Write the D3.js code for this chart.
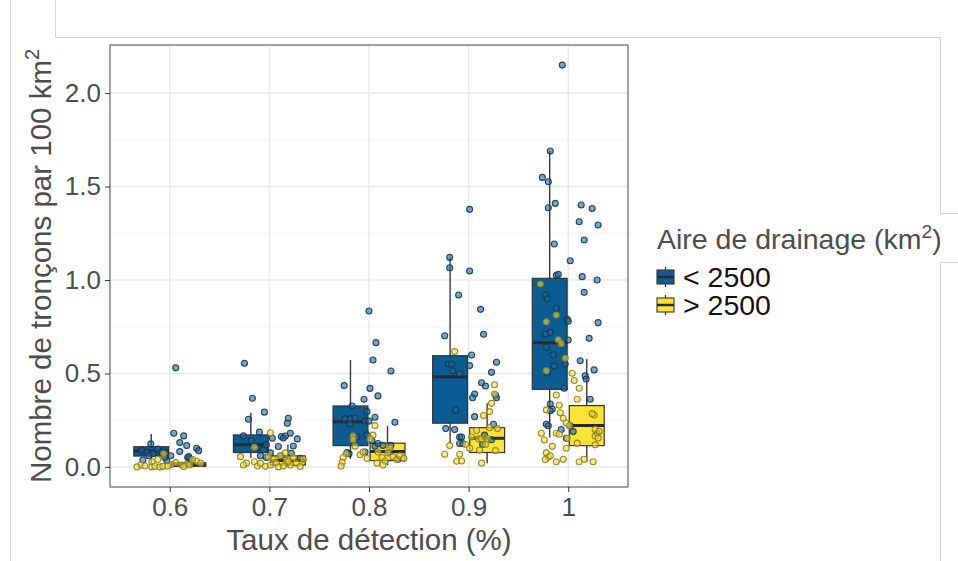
<!DOCTYPE html>
<html>
<head>
<meta charset="utf-8">
<script src="https://cdn.jsdelivr.net/npm/d3@7"></script>
<style>
  body { margin: 0; background: #fff; }
  svg { display: block; font-family: "Liberation Sans", Arial, sans-serif; }
</style>
</head>
<body>
<div id="chart"></div>
<script>
/* Boxplots + jittered points: reach density by detection rate and drainage area */

var categories = ['0.6', '0.7', '0.8', '0.9', '1'];
var groups = ['< 2500', '> 2500'];
var yTicks = [0, 0.5, 1.0, 1.5, 2.0];

/* box stats per category: [lower whisker, Q1, median, Q3, upper whisker] */
var boxesSmall = [
  [0.020, 0.058, 0.085, 0.108, 0.176],
  [0.048, 0.077, 0.118, 0.171, 0.290],
  [0.043, 0.114, 0.242, 0.326, 0.572],
  [0.127, 0.234, 0.483, 0.595, 1.121],
  [0.157, 0.415, 0.665, 1.009, 1.690]
];
var boxesLarge = [
  [0.000, 0.003, 0.012, 0.022, 0.045],
  [0.000, 0.010, 0.034, 0.059, 0.120],
  [0.010, 0.034, 0.082, 0.127, 0.219],
  [0.020, 0.077, 0.153, 0.210, 0.340],
  [0.028, 0.114, 0.221, 0.328, 0.578]
];

/* jittered observations: [category index, jitter (category units), value] */
var pointsSmall = [
  [0,0.06,0.53],[0,0.04,0.18],[0,0.14,0.166],[0,0.10,0.13],[0,0.17,0.114],[0,0.27,0.10],
  [0,0.29,0.087],[0,-0.19,0.123],[0,0.10,0.082],[0,0.01,0.06],[0,0.18,0.05],[0,0.20,0.043],
  [0,0.22,0.034],[0,-0.03,0.034],[0,-0.28,0.087],[0,-0.23,0.078],[0,-0.17,0.07],[0,-0.12,0.095],
  [0,-0.08,0.08],[0,-0.21,0.06],[0,-0.05,0.05],[0,-0.27,0.037],[0,0.19,0.055],
  [1,-0.25,0.555],[1,-0.17,0.367],[1,-0.05,0.293],[1,-0.21,0.255],[1,0.19,0.26],[1,0.18,0.234],
  [1,-0.10,0.186],[1,-0.26,0.166],[1,0.21,0.18],[1,0.12,0.163],[1,0.16,0.165],[1,0.14,0.155],
  [1,0.28,0.15],[1,0.03,0.153],[1,-0.03,0.118],[1,0.09,0.109],[1,0.24,0.112],[1,-0.18,0.14],
  [1,-0.13,0.10],[1,-0.06,0.09],[1,-0.09,0.06],[1,0.12,0.059],[1,0.22,0.073],[1,0.31,0.046],
  [1,-0.03,0.05],[1,0.01,0.075],
  [2,0.00,0.834],[2,0.07,0.665],[2,0.04,0.572],[2,0.22,0.513],[2,-0.25,0.435],[2,0.01,0.42],
  [2,0.09,0.38],[2,-0.05,0.362],[2,-0.17,0.326],[2,-0.02,0.296],[2,0.06,0.266],[2,0.26,0.239],
  [2,-0.24,0.257],[2,-0.19,0.257],[2,-0.14,0.26],[2,-0.19,0.23],[2,-0.04,0.245],[2,0.00,0.245],
  [2,-0.12,0.16],[2,-0.02,0.17],[2,0.03,0.14],[2,-0.22,0.077],[2,-0.20,0.07],[2,-0.04,0.08],
  [2,0.06,0.11],[2,0.09,0.125],[2,0.14,0.115],[2,0.22,0.115],[2,0.29,0.041],[2,0.21,0.08],
  [3,0.01,1.378],[3,-0.19,1.121],[3,-0.19,1.066],[3,0.01,1.048],[3,-0.10,0.92],[3,0.12,0.843],
  [3,0.15,0.71],[3,-0.24,0.702],[3,0.03,0.599],[3,0.28,0.56],[3,0.01,0.542],[3,-0.20,0.549],
  [3,-0.17,0.549],[3,-0.16,0.513],[3,-0.09,0.50],[3,0.23,0.506],[3,0.13,0.45],[3,0.17,0.433],
  [3,0.06,0.39],[3,0.04,0.37],[3,0.27,0.385],[3,0.28,0.37],[3,-0.13,0.305],[3,0.06,0.269],
  [3,0.25,0.228],[3,-0.23,0.205],[3,-0.14,0.20],[3,-0.09,0.16],[3,-0.07,0.16],[3,-0.06,0.125],
  [3,-0.09,0.125],[3,0.16,0.17],[3,0.23,0.145],[3,0.14,0.12],
  [4,-0.06,2.15],[4,-0.18,1.69],[4,-0.26,1.549],[4,-0.20,1.526],[4,-0.13,1.41],[4,-0.20,1.387],
  [4,0.13,1.401],[4,0.24,1.383],[4,0.11,1.312],[4,0.30,1.294],[4,0.16,1.214],[4,-0.14,1.193],
  [4,0.02,1.103],[4,-0.12,1.025],[4,-0.10,1.03],[4,0.14,1.018],[4,0.29,1.00],[4,0.16,0.934],
  [4,-0.23,0.92],[4,-0.21,0.90],[4,-0.12,0.849],[4,-0.01,0.79],[4,0.00,0.78],[4,0.30,0.772],
  [4,-0.23,0.711],[4,-0.18,0.72],[4,0.21,0.688],[4,0.00,0.679],[4,-0.22,0.64],[4,-0.15,0.60],
  [4,0.12,0.568],[4,0.17,0.487],[4,0.18,0.47],[4,0.26,0.519],[4,-0.14,0.54],[4,-0.21,0.503],
  [4,-0.03,0.55],[4,-0.04,0.421],[4,-0.18,0.337],[4,-0.16,0.31],[4,-0.18,0.30],[4,0.22,0.362],
  [4,-0.22,0.228],[4,-0.20,0.22],[4,0.05,0.189],[4,-0.07,0.20],[4,0.29,0.18],[4,-0.02,0.153],
  [4,0.02,0.22]
];
var pointsLarge = [
  [0,-0.29,0.01],[0,-0.18,0.028],[0,-0.18,0.0],[0,-0.15,0.002],[0,-0.10,0.0],[0,-0.07,0.003],
  [0,-0.06,0.07],[0,0.06,0.023],[0,0.12,0.01],[0,0.17,0.015],[0,0.20,0.01],[0,0.27,0.03],
  [0,0.01,0.012],[0,-0.25,0.005],[0,0.31,0.02],[0,0.23,0.04],[0,-0.02,0.004],[0,0.14,0.002],
  [0,-0.12,0.04],[0,-0.33,0.0],
  [1,0.01,0.183],[1,-0.15,0.105],[1,-0.29,0.055],[1,-0.23,0.02],[1,-0.26,0.01],[1,-0.15,0.028],
  [1,-0.12,0.005],[1,-0.04,0.003],[1,0.04,0.04],[1,0.07,0.02],[1,0.11,0.06],[1,0.14,0.005],
  [1,0.17,0.035],[1,0.21,0.01],[1,0.24,0.05],[1,0.27,0.02],[1,0.31,0.002],[1,0.34,0.04],
  [1,0.01,0.01],[1,0.09,0.0],[1,0.19,0.03],[1,-0.01,0.055],[1,-0.09,0.02],[1,0.16,0.075],
  [2,0.06,0.221],[2,-0.16,0.166],[2,-0.16,0.145],[2,-0.14,0.11],[2,-0.23,0.07],[2,-0.26,0.05],
  [2,-0.27,0.025],[2,-0.28,0.005],[2,-0.09,0.065],[2,-0.06,0.08],[2,-0.02,0.045],[2,0.04,0.17],
  [2,0.01,0.15],[2,0.09,0.08],[2,0.13,0.05],[2,0.16,0.03],[2,0.21,0.10],[2,0.24,0.055],
  [2,0.28,0.04],[2,0.31,0.06],[2,0.35,0.045],[2,0.14,0.01],[2,0.08,0.02],[2,0.19,0.075],
  [3,-0.14,0.617],[3,0.26,0.44],[3,0.26,0.39],[3,0.23,0.34],[3,0.21,0.296],[3,0.15,0.275],
  [3,0.08,0.195],[3,0.10,0.15],[3,0.13,0.15],[3,0.19,0.152],[3,0.21,0.21],[3,0.29,0.205],
  [3,0.27,0.087],[3,-0.19,0.114],[3,-0.24,0.068],[3,-0.09,0.068],[3,-0.12,0.03],[3,-0.07,0.032],
  [3,0.13,0.02],[3,0.03,0.16],[3,-0.03,0.12],[3,0.01,0.10],[3,0.17,0.12],[3,0.11,0.09],
  [4,-0.28,0.979],[4,-0.12,0.813],[4,-0.22,0.777],[4,-0.10,0.68],[4,-0.07,0.66],[4,-0.03,0.581],
  [4,-0.22,0.515],[4,0.04,0.501],[4,0.06,0.462],[4,0.11,0.421],[4,-0.12,0.385],[4,0.09,0.362],
  [4,-0.09,0.33],[4,-0.08,0.29],[4,-0.05,0.26],[4,-0.02,0.235],[4,0.01,0.22],[4,-0.22,0.305],
  [4,-0.27,0.18],[4,-0.12,0.18],[4,-0.09,0.175],[4,-0.24,0.144],[4,-0.01,0.153],[4,0.26,0.278],
  [4,0.24,0.285],[4,0.27,0.20],[4,0.31,0.19],[4,0.27,0.165],[4,0.30,0.155],[4,0.09,0.127],
  [4,0.27,0.118],[4,-0.22,0.075],[4,-0.20,0.052],[4,-0.23,0.04],[4,-0.18,0.06],[4,-0.12,0.028],
  [4,-0.05,0.041],[4,-0.02,0.10],[4,0.11,0.028],[4,0.16,0.041],[4,0.25,0.028],[4,-0.16,0.11]
];

var boxFill = ['#0b5c92', '#fde333'];
var ptFill = ['#1d6a9c', '#f5dc3c'];
var ptStroke = ['#15364f', '#8f7f1e'];

var W = 958, H = 561;
var panel = {left: 110, right: 628, top: 45, bottom: 487};

var svg = d3.select('#chart').append('svg')
  .attr('width', W).attr('height', H);

/* screenshot frame lines */
var frame = svg.append('g').attr('stroke', '#d4d4d4').attr('stroke-width', 1).attr('fill', 'none');
frame.append('path').attr('d', 'M10.5,0V561');
frame.append('path').attr('d', 'M55.5,0V37.5H940.5V213.5H958');
frame.append('path').attr('d', 'M958,262.5H940.5V561');

var x = d3.scalePoint().domain(categories).range([panel.left, panel.right]).padding(0.6);
var step = x.step();
var yMax = 2.15, yPad = yMax * 0.05;
var y = d3.scaleLinear().domain([-yPad, yMax + yPad]).range([panel.bottom, panel.top]);

var dodge = 0.186 * step, boxW = 0.35 * step;

/* grid */
var grid = svg.append('g');
d3.range(0.25, yMax + yPad, 0.5).forEach(function(v) {
  grid.append('line').attr('x1', panel.left).attr('x2', panel.right)
    .attr('y1', y(v)).attr('y2', y(v)).attr('stroke', '#f3f3f3').attr('stroke-width', 1);
});
yTicks.forEach(function(v) {
  grid.append('line').attr('x1', panel.left).attr('x2', panel.right)
    .attr('y1', y(v)).attr('y2', y(v)).attr('stroke', '#e8e8e8').attr('stroke-width', 1.5);
});
categories.forEach(function(c) {
  grid.append('line').attr('y1', panel.top).attr('y2', panel.bottom)
    .attr('x1', x(c)).attr('x2', x(c)).attr('stroke', '#ebebeb').attr('stroke-width', 1.5);
});

/* boxes */
var gBox = svg.append('g');
[boxesSmall, boxesLarge].forEach(function(boxes, gi) {
  boxes.forEach(function(b, ci) {
    var cx = x(categories[ci]) + (gi === 0 ? -dodge : dodge);
    gBox.append('line').attr('x1', cx).attr('x2', cx).attr('y1', y(b[0])).attr('y2', y(b[4]))
      .attr('stroke', '#3a3a3a').attr('stroke-width', 1.4);
    gBox.append('rect').attr('x', cx - boxW / 2).attr('width', boxW)
      .attr('y', y(b[3])).attr('height', y(b[1]) - y(b[3]))
      .attr('fill', boxFill[gi]).attr('stroke', '#333').attr('stroke-width', 1.2);
    gBox.append('line').attr('x1', cx - boxW / 2).attr('x2', cx + boxW / 2)
      .attr('y1', y(b[2])).attr('y2', y(b[2]))
      .attr('stroke', '#2b2b2b').attr('stroke-width', 3);
  });
});

/* jittered points */
var gPts = svg.append('g');
[pointsSmall, pointsLarge].forEach(function(pts, gi) {
  gPts.selectAll('circle.g' + gi).data(pts).enter().append('circle')
    .attr('class', 'g' + gi)
    .attr('cx', function(d) { return x(categories[d[0]]) + d[1] * step; })
    .attr('cy', function(d) { return y(d[2]); })
    .attr('r', 3)
    .attr('fill', ptFill[gi]).attr('fill-opacity', 0.6)
    .attr('stroke', ptStroke[gi]).attr('stroke-opacity', 0.9).attr('stroke-width', 1.1);
});

/* panel border */
svg.append('rect').attr('x', panel.left).attr('y', panel.top)
  .attr('width', panel.right - panel.left).attr('height', panel.bottom - panel.top)
  .attr('fill', 'none').attr('stroke', '#666').attr('stroke-width', 1.2);

/* axes */
var yAxis = svg.append('g').attr('transform', 'translate(' + panel.left + ',0)')
  .call(d3.axisLeft(y).tickValues(yTicks).tickFormat(d3.format('.1f')).tickSize(5).tickPadding(4));
var xAxis = svg.append('g').attr('transform', 'translate(0,' + panel.bottom + ')')
  .call(d3.axisBottom(x).tickSize(5).tickPadding(6));
[yAxis, xAxis].forEach(function(a) {
  a.select('.domain').remove();
  a.selectAll('.tick line').attr('stroke', '#333');
  a.selectAll('.tick text').attr('fill', '#4d4d4d').style('font-size', '26px')
    .style('font-family', '"Liberation Sans", Arial, sans-serif');
});

/* axis titles */
svg.append('text').attr('x', (panel.left + panel.right) / 2).attr('y', 550)
  .attr('text-anchor', 'middle').attr('fill', '#4d4d4d').style('font-size', '29.5px')
  .text('Taux de détection (%)');

var yt = svg.append('text')
  .attr('transform', 'translate(51,' + (panel.top + panel.bottom) / 2 + ') rotate(-90)')
  .attr('text-anchor', 'middle').attr('fill', '#4d4d4d').style('font-size', '29.5px');
yt.append('tspan').text('Nombre de tronçons par 100 km');
yt.append('tspan').attr('dy', -12).style('font-size', '20px').text('2');

/* legend */
var lg = svg.append('g').attr('transform', 'translate(657,0)');
var lt = lg.append('text').attr('x', 0).attr('y', 249).attr('fill', '#4d4d4d').style('font-size', '28.5px');
lt.append('tspan').text('Aire de drainage (km');
lt.append('tspan').attr('dy', -11).style('font-size', '19px').text('2');
lt.append('tspan').attr('dy', 11).text(')');

groups.forEach(function(g, i) {
  var ky = 277 + i * 28;
  lg.append('line').attr('x1', 8.5).attr('x2', 8.5).attr('y1', ky - 10).attr('y2', ky + 10)
    .attr('stroke', '#333').attr('stroke-width', 1.2);
  lg.append('rect').attr('x', 0).attr('y', ky - 7).attr('width', 17).attr('height', 14)
    .attr('fill', boxFill[i]).attr('stroke', '#333').attr('stroke-width', 1.1);
  lg.append('line').attr('x1', 0).attr('x2', 17).attr('y1', ky).attr('y2', ky)
    .attr('stroke', '#2b2b2b').attr('stroke-width', 2.5);
  lg.append('text').attr('x', 26).attr('y', ky + 10).attr('fill', '#111')
    .style('font-size', '28.5px').text(g);
});
</script>
</body>
</html>
